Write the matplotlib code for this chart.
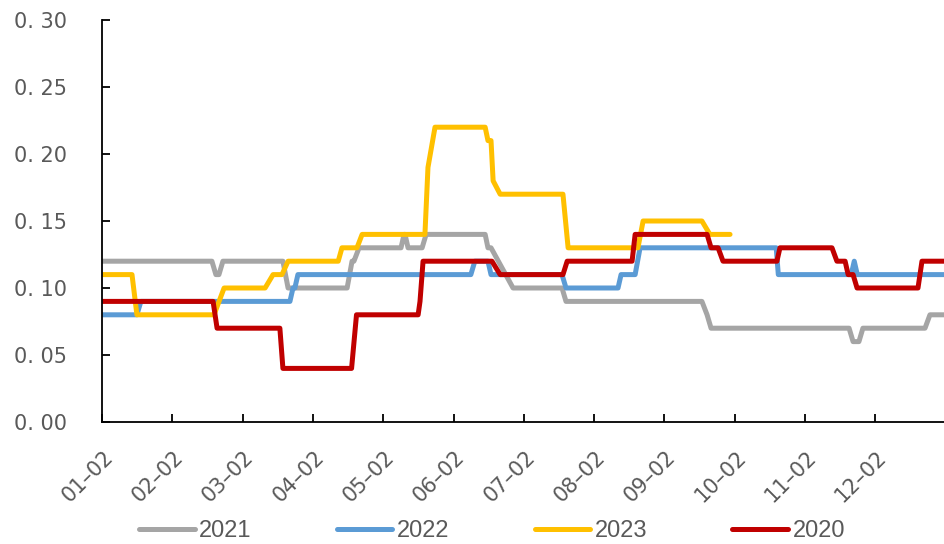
import matplotlib
matplotlib.use('Agg')
import matplotlib.pyplot as plt
import matplotlib.transforms as mtransforms

# Datos: x en dias (30 dias por mes en el eje de categorias), y en valor
meses = ['01–02', '02–02', '03–02', '04–02', '05–02', '06–02',
         '07–02', '08–02', '09–02', '10–02', '11–02', '12–02']

x_2021 = [0, 46.9, 48.6, 49.9, 51.6, 77.2, 79.4, 104.6, 106.7, 107.5, 109.7, 127.6, 128.9, 129.3,
          130.6, 136.6, 138.3, 163.5, 164.7, 166.0, 175.4, 196.3, 198.0, 256.0, 258.2, 259.9,
          318.8, 320.5, 323.0, 324.7, 351.2, 353.3, 359.3]
y_2021 = [0.12, 0.12, 0.11, 0.11, 0.12, 0.12, 0.10, 0.10, 0.12, 0.12, 0.13, 0.13, 0.14, 0.14,
          0.13, 0.13, 0.14, 0.14, 0.13, 0.13, 0.10, 0.10, 0.09, 0.09, 0.08, 0.07,
          0.07, 0.06, 0.06, 0.07, 0.07, 0.08, 0.08]

x_2022 = [0, 14.9, 16.6, 80.2, 81.5, 82.3, 83.6, 157.4, 159.1, 164.7, 166.0, 196.3, 198.0,
          220.2, 221.5, 227.5, 229.6, 287.7, 288.6, 319.7, 321.0, 322.3, 359.3]
y_2022 = [0.08, 0.08, 0.09, 0.09, 0.10, 0.10, 0.11, 0.11, 0.12, 0.12, 0.11, 0.11, 0.10,
          0.10, 0.11, 0.11, 0.13, 0.13, 0.11, 0.11, 0.12, 0.11, 0.11]

x_2023 = [0, 12.8, 14.9, 47.8, 52.1, 69.6, 73.0, 76.8, 79.4, 100.8, 102.4, 108.8, 111.0,
          137.8, 139.1, 142.1, 163.5, 164.7, 166.0, 166.9, 169.9, 196.7, 198.9, 228.7,
          230.9, 256.0, 259.4, 268.0]
y_2023 = [0.11, 0.11, 0.08, 0.08, 0.10, 0.10, 0.11, 0.11, 0.12, 0.12, 0.13, 0.13, 0.14,
          0.14, 0.19, 0.22, 0.22, 0.21, 0.21, 0.18, 0.17, 0.17, 0.13, 0.13,
          0.15, 0.15, 0.14, 0.14]

x_2020 = [0, 47.4, 49.1, 75.9, 77.2, 106.5, 108.6, 134.9, 135.7, 137.0, 166.4, 169.9, 196.7,
          198.5, 226.2, 227.5, 258.2, 259.9, 262.9, 265.0, 288.0, 289.3, 311.5, 313.6,
          317.1, 318.4, 320.5, 322.2, 348.2, 349.9, 359.3]
y_2020 = [0.09, 0.09, 0.07, 0.07, 0.04, 0.04, 0.08, 0.08, 0.09, 0.12, 0.12, 0.11, 0.11,
          0.12, 0.12, 0.14, 0.14, 0.13, 0.13, 0.12, 0.12, 0.13, 0.13, 0.12,
          0.12, 0.11, 0.11, 0.10, 0.10, 0.12, 0.12]

series = [('2021', x_2021, y_2021, '#A5A5A5'),
          ('2022', x_2022, y_2022, '#5B9BD5'),
          ('2023', x_2023, y_2023, '#FFC000'),
          ('2020', x_2020, y_2020, '#C00000')]

fig = plt.figure(figsize=(9.44, 5.44), dpi=100)
ax = fig.add_axes([102/944, 1-422/544, 1-102/944, (422-20)/544])

for nombre, xs, ys, color in series:
    ax.plot(xs, ys, color=color, lw=3.6, label=nombre,
            solid_joinstyle='round', solid_capstyle='round')

ax.set_xlim(0, 359.3)
ax.set_ylim(0, 0.30)

ax.spines['top'].set_visible(False)
ax.spines['right'].set_visible(False)
for s in ['left', 'bottom']:
    ax.spines[s].set_linewidth(1.3)
    ax.spines[s].set_color('black')
ax.tick_params(axis='both', direction='in', length=6, width=1.3, colors='black')
ax.tick_params(axis='y', pad=25)
ax.tick_params(axis='x', pad=18)

ax.set_xticks([30*i for i in range(12)])
ax.set_xticklabels(meses, fontsize=15, color='#595959')
plt.setp(ax.get_xticklabels(), rotation=45, ha='right', va='top', rotation_mode='anchor')
yt = [0, 0.05, 0.10, 0.15, 0.20, 0.25, 0.30]
ax.set_yticks(yt)
ax.set_yticklabels(['0. %02d' % round(v*100) for v in yt], fontsize=15, color='#595959')

# mover un poco las etiquetas del eje x a la derecha
offset = mtransforms.ScaledTranslation(1/100, 0, fig.dpi_scale_trans)
for lab in ax.get_xticklabels():
    lab.set_transform(lab.get_transform() + offset)

leg = fig.legend(loc='center', bbox_to_anchor=(492/944, 1-531/544), ncol=4, frameon=False,
                 handlelength=2.35, handletextpad=0.2, columnspacing=3.6,
                 prop={'family': 'Liberation Sans', 'size': 17})
for t in leg.get_texts():
    t.set_color('#595959')

plt.savefig('out.png', dpi=100)
